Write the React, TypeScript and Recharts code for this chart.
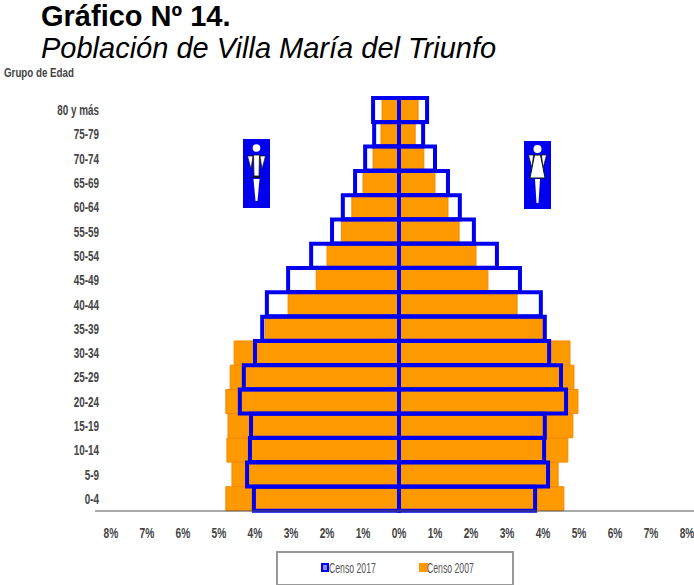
import { BarChart, Bar, XAxis, YAxis, Legend } from 'recharts';

const groups = ['80 y más', '75-79', '70-74', '65-69', '60-64', '55-59', '50-54', '45-49', '40-44', '35-39', '30-34', '25-29', '20-24', '15-19', '10-14', '5-9', '0-4'];
const male2017 = [0.72, 0.69, 0.94, 1.22, 1.56, 1.86, 2.44, 3.08, 3.67, 3.8, 4.0, 4.31, 4.42, 4.11, 4.14, 4.22, 4.03];
const female2017 = [0.78, 0.67, 1.0, 1.36, 1.69, 2.08, 2.72, 3.36, 3.94, 4.05, 4.17, 4.5, 4.64, 4.05, 4.03, 4.14, 3.78];
const male2007 = [0.47, 0.5, 0.72, 1.0, 1.31, 1.6, 2.0, 2.3, 3.08, 3.72, 4.58, 4.69, 4.81, 4.75, 4.78, 4.64, 4.81];
const female2007 = [0.53, 0.45, 0.69, 1.0, 1.36, 1.67, 2.14, 2.47, 3.28, 4.0, 4.75, 4.86, 4.97, 4.83, 4.69, 4.42, 4.58];
const xTicks = [-8, -7, -6, -5, -4, -3, -2, -1, 0, 1, 2, 3, 4, 5, 6, 7, 8];

const data = groups.map((g, i) => ({
    group: g,
    m2007: -male2007[i],
    f2007: female2007[i],
    m2017: -male2017[i],
    f2017: female2017[i],
}));

const BLUE = '#0000EE';
const ORANGE = '#FF9900';
const sans = 'Arial, "Liberation Sans", sans-serif';

// no narrow font here, so the labels get squeezed by hand
function YTick({ x, y, payload }: any) {
    return (
        <text
            transform={`translate(${x + 4},${y + 5}) scale(0.66,1)`}
            textAnchor="end"
            fontFamily={sans}
            fontSize={15}
            fontWeight={700}
            fill="#444"
        >
            {payload.value}
        </text>
    );
}

function XTick({ x, y, payload }: any) {
    return (
        <text
            transform={`translate(${x},${y + 7}) scale(0.68,1)`}
            textAnchor="middle"
            fontFamily={sans}
            fontSize={15}
            fontWeight={700}
            fill="#444"
        >
            {`${Math.abs(payload.value)}%`}
        </text>
    );
}

const squeezed = (left: number) => ({
    position: 'absolute' as const,
    left,
    top: 7,
    fontSize: 14,
    whiteSpace: 'nowrap' as const,
    transform: 'scaleX(0.62)',
    transformOrigin: 'left top',
});

function LegendBox() {
    return (
        <div style={{ position: 'relative', width: 234, height: 31, border: '2px solid #999', fontFamily: sans, color: '#555' }}>
            <span style={{ position: 'absolute', left: 43, top: 10, width: 4, height: 5, border: `2px solid ${BLUE}`, background: '#88f' }} />
            <span style={squeezed(51)}>Censo 2017</span>
            <span style={{ position: 'absolute', left: 141, top: 10, width: 9, height: 9, background: ORANGE }} />
            <span style={squeezed(149)}>Censo 2007</span>
        </div>
    );
}

function ManIcon() {
    return (
        <svg width={27} height={69} style={{ position: 'absolute', left: 243, top: 139 }}>
            <rect width={27} height={69} fill={BLUE} />
            <circle cx={13.5} cy={9} r={3.8} fill="#fff" />
            <path d="M4.5 17 L10 17 L8 30 Z M17 17 L22.5 17 L19 30 Z" fill="#fff" stroke="#111" strokeWidth={0.7} />
            <path d="M10.5 16 L16.5 16 L16 37 L11 37 Z" fill="#fff" stroke="#111" strokeWidth={0.8} />
            <rect x={10} y={37} width={7} height={2} fill="#111" />
            <path d="M10.5 40 L16.5 40 L14.5 62 L12.5 62 Z" fill="#fff" />
        </svg>
    );
}

function WomanIcon() {
    return (
        <svg width={27} height={68} style={{ position: 'absolute', left: 524, top: 141 }}>
            <rect width={27} height={68} fill={BLUE} />
            <circle cx={13.5} cy={8} r={4} fill="#fff" />
            <path d="M4.5 14 L9.5 14 L8 27 Z M17.5 14 L22.5 14 L19 27 Z" fill="#fff" stroke="#111" strokeWidth={0.7} />
            <path d="M10.5 14 L16.5 14 L21 37 L6 37 Z" fill="#fff" stroke="#111" strokeWidth={1} />
            <path d="M11 38 L16 38 L14.5 62 L12.5 62 Z" fill="#fff" />
        </svg>
    );
}

export default function App() {
    return (
        <div style={{ position: 'absolute', left: 0, top: 0, width: 694, height: 585, background: '#fff', overflow: 'hidden' }}>
            <BarChart
                width={694}
                height={585}
                data={data}
                layout="vertical"
                stackOffset="sign"
                barSize={24}
                barGap={-24}
                margin={{ top: 98, right: 0, left: 0, bottom: 0 }}
            >
                <XAxis
                    type="number"
                    domain={[-8.444, 8.194]}
                    ticks={xTicks}
                    tick={<XTick />}
                    tickLine={false}
                    tickMargin={14}
                    height={40}
                    axisLine={{ stroke: '#555', strokeWidth: 1 }}
                    interval={0}
                />
                <YAxis
                    type="category"
                    dataKey="group"
                    width={95}
                    tick={<YTick />}
                    tickLine={false}
                    tickMargin={-6}
                    axisLine={false}
                    interval={0}
                />
                <Legend
                    verticalAlign="bottom"
                    height={34}
                    content={<LegendBox />}
                    wrapperStyle={{ left: 276, width: 238, bottom: 0 }}
                />
                <Bar dataKey="m2007" stackId="c2007" fill={ORANGE} stroke="#F58A00" strokeWidth={1} isAnimationActive={false} />
                <Bar dataKey="f2007" stackId="c2007" fill={ORANGE} stroke="#F58A00" strokeWidth={1} isAnimationActive={false} />
                <Bar dataKey="m2017" stackId="c2017" fill="none" stroke={BLUE} strokeWidth={4} isAnimationActive={false} />
                <Bar dataKey="f2017" stackId="c2017" fill="none" stroke={BLUE} strokeWidth={4} isAnimationActive={false} />
            </BarChart>
            <ManIcon />
            <WomanIcon />
            <div style={{ position: 'absolute', left: 41, top: 0, lineHeight: '33px', fontFamily: sans, fontWeight: 700, fontSize: 29, color: '#000', whiteSpace: 'nowrap' }}>
                Gráfico Nº 14.
            </div>
            <div style={{ position: 'absolute', left: 41, top: 32, lineHeight: '33px', fontFamily: sans, fontStyle: 'italic', fontSize: 29, color: '#000', whiteSpace: 'nowrap' }}>
                Población de Villa María del Triunfo
            </div>
            <div style={{ position: 'absolute', left: 4, top: 65, fontFamily: sans, fontSize: 13, fontWeight: 700, color: '#444', whiteSpace: 'nowrap', transform: 'scaleX(0.75)', transformOrigin: 'left top' }}>
                Grupo de Edad
            </div>
        </div>
    );
}
